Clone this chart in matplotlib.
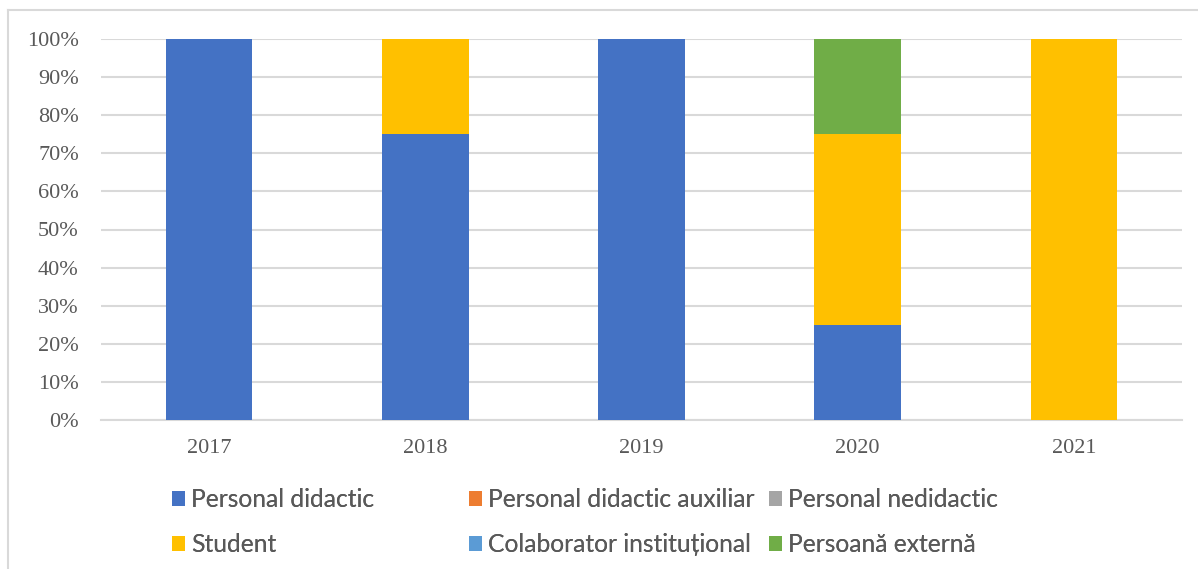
import numpy as np
import matplotlib.pyplot as plt
from matplotlib.patches import Patch
from matplotlib.lines import Line2D

years = ["2017", "2018", "2019", "2020", "2021"]
series_names = [
    "Personal didactic",
    "Personal didactic auxiliar",
    "Personal nedidactic",
    "Student",
    "Colaborator instituțional",
    "Persoană externă",
]
personal_didactic = [100, 75, 100, 25, 0]
personal_auxiliar = [0, 0, 0, 0, 0]
personal_nedidactic = [0, 0, 0, 0, 0]
student = [0, 25, 0, 50, 100]
colaborator = [0, 0, 0, 0, 0]
persoana_externa = [0, 0, 0, 25, 0]
yticks = [0, 10, 20, 30, 40, 50, 60, 70, 80, 90, 100]

COLORS = ["#4472C4", "#ED7D31", "#A5A5A5", "#FFC000", "#5B9BD5", "#70AD47"]
TEXT = "#595959"
GRID = "#D9D9D9"

fig = plt.figure(figsize=(11.98, 5.69), dpi=100)
fig.patch.set_facecolor("white")
ax = fig.add_axes([101 / 1198, 1 - 420 / 569, 1081 / 1198, 381 / 569])

x = np.arange(len(years))
values = [personal_didactic, personal_auxiliar, personal_nedidactic,
          student, colaborator, persoana_externa]
bottom = np.zeros(len(years))
for vals, color in zip(values, COLORS):
    vals = np.array(vals, dtype=float)
    ax.bar(x, vals, 0.4, bottom=bottom, color=color, zorder=3)
    bottom += vals

ax.set_xlim(-0.5, len(years) - 0.5)
ax.set_ylim(0, 100)
ax.set_yticks(yticks)
ax.set_yticklabels([f"{v}%" for v in yticks])
ax.set_xticks(x)
ax.set_xticklabels(years)
for lab in ax.get_xticklabels() + ax.get_yticklabels():
    lab.set_family("Liberation Serif")
    lab.set_fontsize(16)
    lab.set_color(TEXT)
ax.tick_params(axis="both", length=0)
ax.tick_params(axis="y", pad=16)
ax.tick_params(axis="x", pad=14)
ax.yaxis.grid(True, color=GRID, linewidth=1.5, zorder=0)
ax.set_axisbelow(True)
for s in ["top", "right", "left"]:
    ax.spines[s].set_visible(False)
ax.spines["bottom"].set_color(GRID)
ax.spines["bottom"].set_linewidth(1.5)

# legend: three columns placed like the original
col_x = [172, 469, 769]
for col in range(3):
    idx = [col, col + 3]
    handles = [Patch(facecolor=COLORS[i], edgecolor="none") for i in idx]
    labels = [series_names[i] for i in idx]
    leg = fig.legend(handles, labels, loc="upper left",
                     bbox_to_anchor=(col_x[col] / 1198, 1 - 488 / 569),
                     frameon=False, borderpad=0, borderaxespad=0,
                     handlelength=0.53, handleheight=0.53, handletextpad=0.25,
                     labelspacing=0.9,
                     prop={"family": "Lato", "size": 17.7})
    for t in leg.get_texts():
        t.set_color(TEXT)
    fig.add_artist(leg)

# outer chart border (top and left visible)
fig.add_artist(Line2D([8 / 1198, 8 / 1198], [0, 1 - 10 / 569], color=GRID, linewidth=1.5))
fig.add_artist(Line2D([8 / 1198, 1], [1 - 10 / 569, 1 - 10 / 569], color=GRID, linewidth=1.5))

fig.savefig("out.png", dpi=100, facecolor="white")
